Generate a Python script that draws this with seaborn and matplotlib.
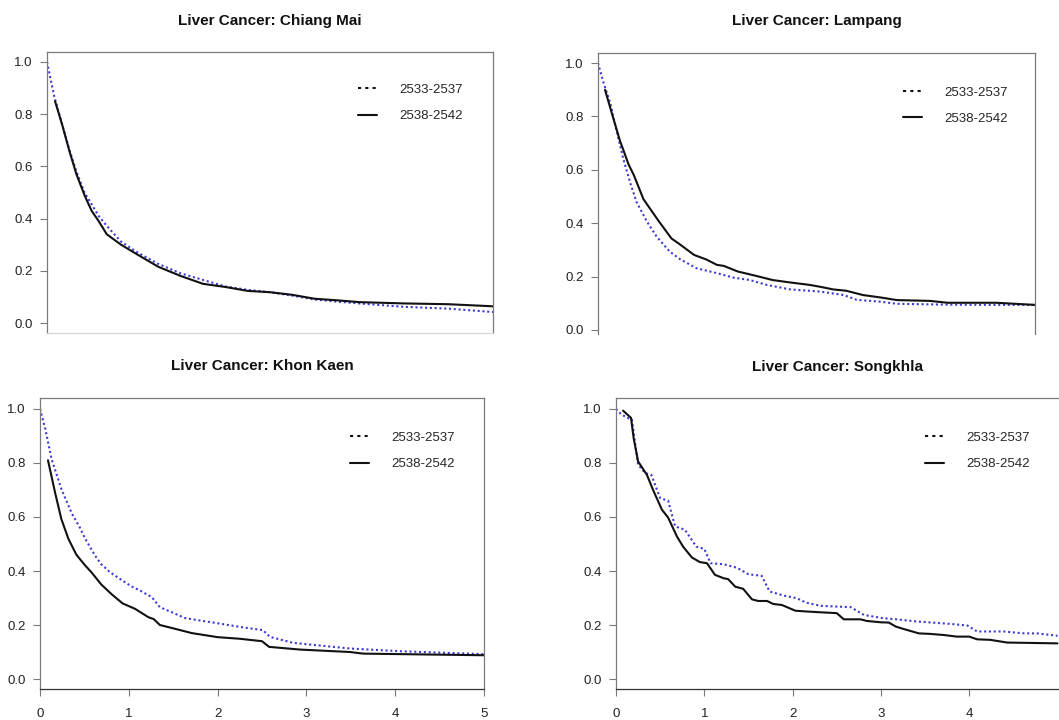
import numpy as np
import pandas as pd
import matplotlib
matplotlib.use("Agg")
import matplotlib.pyplot as plt
import seaborn as sns
from matplotlib.lines import Line2D

sns.set_theme(style="white")
plt.rcParams['font.family'] = ['Liberation Sans', 'DejaVu Sans']

# ---------------- data ----------------
periods = ["2533-2537", "2538-2542"]
titles = ["Liver Cancer: Chiang Mai", "Liver Cancer: Lampang",
          "Liver Cancer: Khon Kaen", "Liver Cancer: Songkhla"]
x_ticks = [0, 1, 2, 3, 4, 5]
y_ticks = [0.0, 0.2, 0.4, 0.6, 0.8, 1.0]
y_tick_labels = ["0.0", "0.2", "0.4", "0.6", "0.8", "1.0"]

# Chiang Mai
cm_t_a = [0, 0.08, 0.17, 0.25, 0.33, 0.42, 0.5, 0.58, 0.67, 0.83, 1.0, 1.25, 1.5, 1.75,
          2.0, 2.25, 2.5, 2.75, 3.0, 3.25, 3.5, 4.0, 4.5, 5.0]
cm_s_a = [1.0, 0.87, 0.76, 0.665, 0.58, 0.50, 0.455, 0.41, 0.372, 0.312, 0.273, 0.226, 0.19,
          0.165, 0.14, 0.127, 0.118, 0.105, 0.09, 0.082, 0.075, 0.062, 0.055, 0.042]
cm_t_b = [0.09, 0.17, 0.25, 0.33, 0.42, 0.5, 0.58, 0.67, 0.83, 1.0, 1.25, 1.5, 1.75, 2.0,
          2.25, 2.5, 2.75, 3.0, 3.25, 3.5, 4.0, 4.5, 5.0]
cm_s_b = [0.85, 0.76, 0.66, 0.57, 0.49, 0.43, 0.39, 0.34, 0.30, 0.265, 0.215, 0.18, 0.15,
          0.138, 0.123, 0.118, 0.108, 0.093, 0.087, 0.08, 0.075, 0.072, 0.064]

# Lampang
lp_t_a = [0, 0.06, 0.14, 0.21, 0.29, 0.37, 0.44, 0.56, 0.67, 0.82, 0.94, 1.13, 1.36, 1.55,
          1.74, 1.93, 2.2, 2.54, 2.81, 2.96, 3.23, 3.42, 4.0, 4.5, 5.0]
lp_s_a = [1.0, 0.93, 0.85, 0.75, 0.64, 0.55, 0.48, 0.406, 0.35, 0.294, 0.265, 0.231, 0.213,
          0.196, 0.187, 0.169, 0.152, 0.144, 0.131, 0.113, 0.106, 0.098, 0.095, 0.094, 0.094]
lp_t_b = [0.08, 0.16, 0.25, 0.35, 0.41, 0.52, 0.69, 0.84, 0.94, 1.1, 1.24, 1.36, 1.44, 1.6,
          1.78, 2.0, 2.2, 2.42, 2.54, 2.69, 2.84, 3.03, 3.23, 3.42, 3.8, 4.0, 4.56, 5.0]
lp_s_b = [0.90, 0.81, 0.71, 0.62, 0.58, 0.49, 0.41, 0.343, 0.32, 0.281, 0.264, 0.244, 0.24,
          0.219, 0.205, 0.187, 0.178, 0.169, 0.162, 0.152, 0.147, 0.131, 0.122, 0.112, 0.109,
          0.102, 0.102, 0.094]

# Khon Kaen
kk_t_a = [0, 0.06, 0.13, 0.24, 0.36, 0.45, 0.51, 0.62, 0.69, 0.79, 0.94, 1.03, 1.13, 1.26,
          1.35, 1.5, 1.63, 1.7, 1.99, 2.25, 2.51, 2.59, 2.85, 3.12, 3.49, 4.05, 5.0]
kk_s_a = [1.0, 0.926, 0.815, 0.704, 0.612, 0.56, 0.519, 0.457, 0.425, 0.395, 0.362, 0.343,
          0.327, 0.303, 0.266, 0.245, 0.226, 0.222, 0.207, 0.193, 0.181, 0.156, 0.134, 0.125,
          0.113, 0.103, 0.092]
kk_t_b = [0.09, 0.17, 0.24, 0.32, 0.41, 0.51, 0.58, 0.69, 0.81, 0.93, 1.07, 1.22, 1.28, 1.35,
          1.52, 1.71, 2.0, 2.25, 2.5, 2.58, 2.93, 3.49, 3.64, 5.0]
kk_s_b = [0.81, 0.69, 0.593, 0.519, 0.46, 0.42, 0.395, 0.35, 0.313, 0.28, 0.26, 0.229, 0.222,
          0.2, 0.186, 0.17, 0.155, 0.149, 0.14, 0.119, 0.109, 0.1, 0.094, 0.088]

# Songkhla
sk_t_a = [0, 0.06, 0.12, 0.18, 0.25, 0.33, 0.40, 0.50, 0.59, 0.67, 0.78, 0.91, 1.0, 1.07,
          1.22, 1.37, 1.5, 1.65, 1.74, 1.90, 2.05, 2.15, 2.32, 2.66, 2.81, 3.03, 3.18, 3.41,
          3.79, 3.98, 4.09, 4.39, 4.62, 4.77, 5.0]
sk_s_a = [1.0, 0.98, 0.969, 0.96, 0.794, 0.763, 0.756, 0.67, 0.66, 0.565, 0.553, 0.49, 0.482,
          0.429, 0.425, 0.412, 0.388, 0.382, 0.324, 0.309, 0.299, 0.283, 0.271, 0.266, 0.237,
          0.225, 0.221, 0.213, 0.204, 0.198, 0.176, 0.176, 0.169, 0.169, 0.16]
sk_t_b = [0.08, 0.17, 0.20, 0.25, 0.35, 0.42, 0.52, 0.59, 0.69, 0.76, 0.86, 0.95, 1.03, 1.12,
          1.22, 1.27, 1.35, 1.44, 1.54, 1.61, 1.71, 1.78, 1.88, 2.03, 2.16, 2.32, 2.5, 2.58,
          2.77, 2.84, 3.0, 3.09, 3.17, 3.26, 3.43, 3.56, 3.71, 3.86, 4.0, 4.09, 4.24, 4.43, 5.0]
sk_s_b = [0.994, 0.967, 0.892, 0.806, 0.756, 0.70, 0.627, 0.598, 0.528, 0.49, 0.45, 0.433,
          0.429, 0.386, 0.373, 0.37, 0.342, 0.334, 0.295, 0.289, 0.289, 0.278, 0.274, 0.253,
          0.25, 0.247, 0.244, 0.221, 0.221, 0.215, 0.21, 0.209, 0.194, 0.185, 0.169, 0.167,
          0.163, 0.157, 0.157, 0.147, 0.145, 0.135, 0.132]

# ---------------- layout ----------------
W, H = 1059, 720
fig = plt.figure(figsize=(W / 100, H / 100), dpi=100)
fig.patch.set_facecolor("white")

BLUE = "#3b3bd2"
BLACK = "#111111"
GREY = "#7a7a7a"
DOT = (0, (1, 1.3))


def px_axes(l, t, r, b):
    return fig.add_axes([l / W, 1 - b / H, (r - l) / W, (b - t) / H])


panels = [
    dict(box=(47, 52, 493, 333), ylim=(-0.0383, 1.0383), xlim=(0, 5), xaxis=False,
         title=(270, 21.5), leg=(358, 103), data=(cm_t_a, cm_s_a, cm_t_b, cm_s_b)),
    dict(box=(598, 53, 1035, 334), ylim=(-0.015, 1.0375), xlim=(0, 5), xaxis=False,
         title=(816.5, 21.5), leg=(903, 105.5), data=(lp_t_a, lp_s_a, lp_t_b, lp_s_b)),
    dict(box=(40, 398, 484, 689), ylim=(-0.037, 1.0407), xlim=(0, 5), xaxis=True,
         title=(262, 366), leg=(350, 451), data=(kk_t_a, kk_s_a, kk_t_b, kk_s_b)),
    dict(box=(616, 398, 1059, 689), ylim=(-0.037, 1.0407), xlim=(0, 5.017), xaxis=True,
         title=(837, 367), leg=(925, 451), data=(sk_t_a, sk_s_a, sk_t_b, sk_s_b)),
]

for i, p in enumerate(panels):
    ax = px_axes(*p["box"])
    ax.set_facecolor("white")
    ta, sa, tb, sb = p["data"]
    sns.lineplot(x=ta, y=sa, ax=ax, color=BLUE, linewidth=1.5, linestyle=DOT,
                 estimator=None, sort=False, legend=False)
    sns.lineplot(x=tb, y=sb, ax=ax, color=BLACK, linewidth=1.5,
                 estimator=None, sort=False, legend=False)
    ax.lines[0].set_dash_capstyle("butt")
    ax.set_xlim(*p["xlim"])
    ax.set_ylim(*p["ylim"])
    ax.set_xlabel("")
    ax.set_ylabel("")
    ax.grid(False)

    ax.set_yticks(y_ticks)
    ax.set_yticklabels(y_tick_labels)
    ax.tick_params(axis="y", direction="out", length=5, width=0.8, color=GREY,
                   labelsize=9.5, labelcolor="#222222", pad=5.5, left=True)
    for s in ["left", "top", "right", "bottom"]:
        ax.spines[s].set_color(GREY)
        ax.spines[s].set_linewidth(0.9)
        ax.spines[s].set_visible(True)

    if p["xaxis"]:
        xt = [t for t in x_ticks if t <= p["xlim"][1]]
        if i == 3:
            xt = [t for t in xt if t < 5]
        ax.set_xticks(xt)
        ax.set_xticklabels([str(t) for t in xt])
        ax.tick_params(axis="x", direction="out", length=5, width=0.8, color=GREY,
                       labelsize=9.5, labelcolor="#222222", pad=8.5, bottom=True)
        ax.spines["bottom"].set_color("#333333")
        if i == 3:
            ax.spines["right"].set_visible(False)
    else:
        ax.set_xticks([])
        if i == 0:
            ax.spines["bottom"].set_color("#d6d6d6")
        else:
            ax.spines["bottom"].set_visible(False)

    handles = [Line2D([], [], color=BLACK, linewidth=1.5, linestyle=(0, (1.5, 2))),
               Line2D([], [], color=BLACK, linewidth=1.5)]
    ax.legend(handles, periods, loc="center left",
              bbox_to_anchor=(p["leg"][0] / W, 1 - p["leg"][1] / H),
              bbox_transform=fig.transFigure, frameon=False, fontsize=9.5,
              handlelength=1.45, handletextpad=1.7, labelspacing=1.05,
              borderpad=0, borderaxespad=0)

    fig.text(p["title"][0] / W, 1 - p["title"][1] / H, titles[i], ha="center", va="center",
             fontsize=11, fontweight="bold", color="#111111")

fig.savefig("out.png", dpi=100, facecolor="white")
